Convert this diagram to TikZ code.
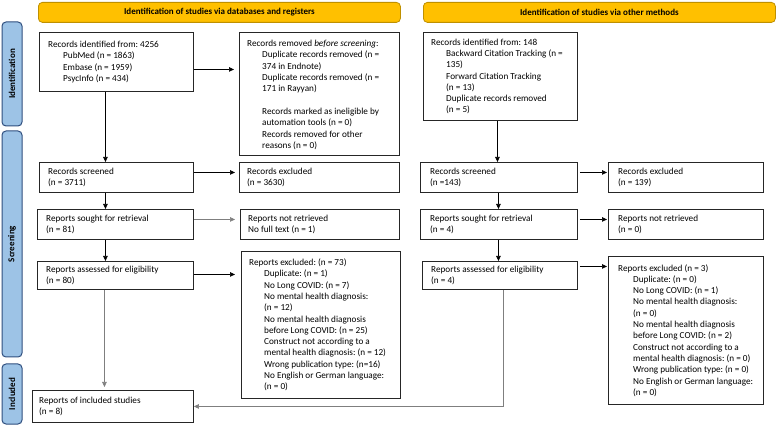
\documentclass[tikz,border=0pt]{standalone}
\usepackage{fontspec}
\setmainfont{Carlito}
\usetikzlibrary{arrows.meta,calc}
\definecolor{hdrfill}{HTML}{FFC000}
\definecolor{hdrdraw}{HTML}{BF9000}
\definecolor{sidefill}{HTML}{9DC3E6}
\definecolor{sidedraw}{HTML}{2F4F7F}
\definecolor{boxc}{HTML}{262626}
\definecolor{lgray}{HTML}{7F7F7F}
\newcommand{\bxfont}{\fontsize{9.2}{11.3}\selectfont\frenchspacing}
\newcommand{\hdfont}{\fontsize{9}{11}\selectfont\bfseries\frenchspacing}
\newcommand{\myind}{\hspace*{15pt}}
\begin{document}
\begin{tikzpicture}[x=1pt,y=-1pt,
  box/.style={draw=boxc, line width=0.9pt, fill=white, anchor=north west, inner sep=0pt},
  txt/.style={anchor=west, align=left, inner sep=0pt, font=\bxfont},
  hdr/.style={draw=hdrdraw, fill=hdrfill, line width=0.8pt, rounded corners=4pt, anchor=north west, inner sep=0pt, minimum height=20pt, font=\hdfont},
  side/.style={draw=sidedraw, fill=sidefill, line width=1pt, rounded corners=4pt, inner sep=0pt, minimum height=20pt, font=\hdfont, rotate=90},
  arr/.style={-{Triangle[length=5pt,width=4.5pt]}, line width=0.7pt, draw=black},
  garr/.style={arr, draw=lgray, line width=0.6pt}
]
\useasboundingbox[fill=white] (0,0) rectangle (779,427);

% headers
\node[hdr, minimum width=362pt] (h1) at (38,2) {Identification of studies via databases and registers};
\node[hdr, minimum width=352pt] (h2) at (423,2) {Identification of studies via other methods};

% side bars
\node[side, minimum width=104pt] (s1) at (12,74) {Identification};
\node[side, minimum width=226pt] (s2) at (12,244) {Screening};
\node[side, minimum width=60pt] (s3) at (12,394) {Included};

% left column boxes
\node[box, minimum width=154pt, minimum height=59pt] (A) at (39,32) {};
\node[txt] (At) at ([xshift=9pt]A.west) {Records identified from: 4256\\
\myind PubMed (n = 1863)\\
\myind Embase (n = 1959)\\
\myind PsycInfo (n = 434)};

\node[box, minimum width=160pt, minimum height=123pt] (B) at (239,32) {};
\node[txt] (Bt) at ([xshift=8pt,yshift=-1pt]B.west) {Records removed \textit{before screening}:\\
\myind Duplicate records removed (n =\\
\myind 374 in Endnote)\\
\myind Duplicate records removed (n =\\
\myind 171 in Rayyan)\\[11.3pt]
\myind Records marked as ineligible by\\
\myind automation tools (n = 0)\\
\myind Records removed for other\\
\myind reasons (n = 0)};

\node[box, minimum width=154pt, minimum height=30pt] (C) at (39,162) {};
\node[txt] (Ct) at ([xshift=9pt]C.west) {Records screened\\(n = 3711)};
\node[box, minimum width=160pt, minimum height=30pt] (D) at (239,162) {};
\node[txt] (Dt) at ([xshift=8pt]D.west) {Records excluded\\(n = 3630)};

\node[box, minimum width=156pt, minimum height=30pt] (E) at (37,209) {};
\node[txt] (Et) at ([xshift=9pt]E.west) {Reports sought for retrieval\\(n = 81)};
\node[box, minimum width=159pt, minimum height=30pt] (F) at (240,209) {};
\node[txt] (Ft) at ([xshift=8pt]F.west) {Reports not retrieved\\No full text (n = 1)};

\node[box, minimum width=156pt, minimum height=28pt] (G) at (37,261) {};
\node[txt] (Gt) at ([xshift=9pt]G.west) {Reports assessed for eligibility\\(n = 80)};
\node[box, minimum width=159pt, minimum height=147pt] (H) at (241,251) {};
\node[txt] (Ht) at ([xshift=8pt]H.west) {Reports excluded: (n = 73)\\
\myind Duplicate: (n = 1)\\
\myind No Long COVID: (n = 7)\\
\myind No mental health diagnosis:\\
\myind (n = 12)\\
\myind No mental health diagnosis\\
\myind before Long COVID: (n = 25)\\
\myind Construct not according to a\\
\myind mental health diagnosis: (n = 12)\\
\myind Wrong publication type: (n=16)\\
\myind No English or German language:\\
\myind (n = 0)};

\node[box, minimum width=161pt, minimum height=32pt] (I) at (32,390) {};
\node[txt] (It) at ([xshift=7pt]I.west) {Reports of included studies\\(n = 8)};

% right column boxes
\node[box, minimum width=154pt, minimum height=88pt] (J) at (423,32) {};
\node[txt] (Jt) at ([xshift=8pt]J.west) {Records identified from: 148\\
\myind Backward Citation Tracking (n =\\
\myind 135)\\
\myind Forward Citation Tracking\\
\myind (n = 13)\\
\myind Duplicate records removed\\
\myind (n = 5)};

\node[box, minimum width=157pt, minimum height=30pt] (K) at (420,162) {};
\node[txt] (Kt) at ([xshift=10pt]K.west) {Records screened\\(n =143)};
\node[box, minimum width=155pt, minimum height=30pt] (L) at (608,162) {};
\node[txt] (Lt) at ([xshift=10pt]L.west) {Records excluded\\(n = 139)};

\node[box, minimum width=157pt, minimum height=30pt] (M) at (420,209) {};
\node[txt] (Mt) at ([xshift=10pt]M.west) {Reports sought for retrieval\\(n = 4)};
\node[box, minimum width=155pt, minimum height=30pt] (N) at (608,209) {};
\node[txt] (Nt) at ([xshift=10pt]N.west) {Reports not retrieved\\(n = 0)};

\node[box, minimum width=155pt, minimum height=28pt] (O) at (422,261) {};
\node[txt] (Ot) at ([xshift=9pt]O.west) {Reports assessed for eligibility\\(n = 4)};
\node[box, minimum width=155pt, minimum height=148pt] (P) at (608,256) {};
\node[txt] (Pt) at ([xshift=10pt]P.west) {Reports excluded (n = 3)\\
\myind Duplicate: (n = 0)\\
\myind No Long COVID: (n = 1)\\
\myind No mental health diagnosis:\\
\myind (n = 0)\\
\myind No mental health diagnosis\\
\myind before Long COVID: (n = 2)\\
\myind Construct not according to a\\
\myind mental health diagnosis: (n = 0)\\
\myind Wrong publication type: (n = 0)\\
\myind No English or German language:\\
\myind (n = 0)};

% horizontal connectors
\coordinate (ab) at ([yshift=-7.5pt]A.east);
\draw[arr, shorten >=5pt] (ab) -- (ab -| B.west);
\coordinate (cd) at ([yshift=5pt]C.east);
\draw[arr, shorten >=4pt] (cd) -- (cd -| D.west);
\coordinate (ef) at ([yshift=5pt]E.east);
\draw[garr, shorten >=5pt] (ef) -- (ef -| F.west);
\coordinate (gh) at ([yshift=1pt]G.east);
\draw[arr, shorten >=6pt] (gh) -- (gh -| H.west);
\coordinate (kl) at ([yshift=5pt]K.east);
\draw[arr, shorten <=2pt, shorten >=1pt] (kl) -- (kl -| L.west);
\coordinate (mn) at ([yshift=5pt]M.east);
\draw[arr, shorten <=2pt, shorten >=1pt] (mn) -- (mn -| N.west);
\coordinate (op) at ([yshift=9pt]O.east);
\draw[arr, shorten <=2pt, shorten >=1pt] (op) -- (op -| P.west);

% vertical connectors
\coordinate (ac) at ([xshift=-11pt]A.south);
\draw[arr] (ac) -- (ac |- C.north);
\coordinate (ce) at ([xshift=-11pt]C.south);
\draw[arr] (ce) -- (ce |- E.north);
\coordinate (eg) at ([xshift=-10pt]E.south);
\draw[arr] (eg) -- (eg |- G.north);
\coordinate (gi) at ([xshift=-11pt]G.south);
\draw[garr, shorten >=3pt] (gi) -- (gi |- I.north);
\coordinate (jk) at ([xshift=-3pt]J.south);
\draw[arr] (jk) -- (jk |- K.north);
\coordinate (km) at ([xshift=-0.5pt]K.south);
\draw[arr] (km) -- (km |- M.north);
\coordinate (mo) at ([xshift=-0.5pt]M.south);
\draw[arr] (mo) -- (mo |- O.north);
\coordinate (oi) at ([xshift=3.5pt]O.south);
\draw[garr] (oi) |- (I.east);
\end{tikzpicture}
\end{document}
